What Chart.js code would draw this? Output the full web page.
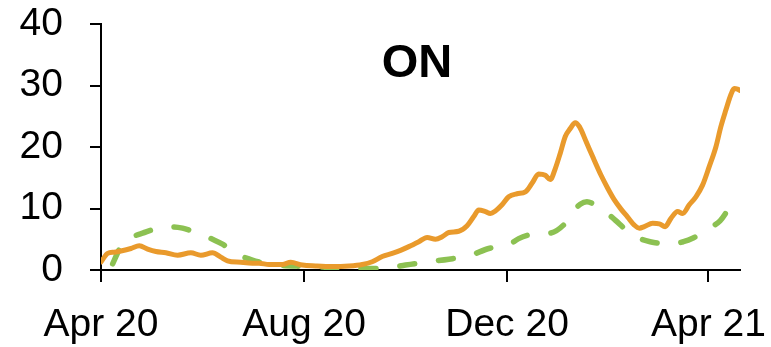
<!DOCTYPE html>
<html>
<head>
<meta charset="utf-8">
<script src="https://cdn.jsdelivr.net/npm/chart.js@4.4.0/dist/chart.umd.min.js"></script>
<style>
html,body{margin:0;padding:0;background:#fff;}
#wrap{width:771px;height:347px;position:relative;}
</style>
</head>
<body>
<div id="wrap"><canvas id="c" width="771" height="347"></canvas></div>
<script>
// ---- data (x = days since 1 Apr 2020) ----
const chartTitle = 'ON';
const tickDays = [0, 122, 244, 365];
const tickLabels = ['Apr 20', 'Aug 20', 'Dec 20', 'Apr 21'];
const yTicks = [0, 10, 20, 30, 40];

const orangeDays = [0,4,8,12,18,23,28,33,39,46,54,60,67,72,76,84,91,95,101,109,114,121,129,139,149,157,163,169,175,180,185,191,196,201,205,209,215,220,224,227,231,234,237,241,245,250,255,259,263,267,270,273,276,279,282,285,287.5,291.5,295.5,300.5,304.5,308.5,312.5,316.5,320.5,323.5,326.5,331.5,335.5,339,342.5,346.5,349.5,353.5,357.5,361.5,365.5,369.5,372.5,375.5,378.5,380.5,382.5,384];
const orangeValues = [1.3,2.7,2.9,3.1,3.5,3.95,3.4,3.0,2.8,2.4,2.8,2.4,2.8,2.1,1.5,1.25,1.1,1.1,0.9,0.9,1.25,0.8,0.65,0.55,0.65,0.9,1.35,2.2,2.7,3.2,3.8,4.6,5.3,5.0,5.4,6.1,6.3,7.2,8.7,9.75,9.5,9.2,9.6,10.6,11.9,12.4,12.7,14.1,15.6,15.4,14.7,16.5,19.0,21.7,23.0,23.95,23.3,20.9,18.4,15.4,13.3,11.4,9.9,8.6,7.3,6.8,7.05,7.6,7.5,7.05,8.4,9.5,9.2,10.6,11.9,13.8,16.8,20.0,23.3,26.0,28.5,29.5,29.4,29.2];

const greenDays = [7,10,13,19,25,36,43,49,55,61,67,73,78,83,89,95,107,121,133,146,158,172,183,197,209,222,233,245,251,257,264,270,279,284,288,292,298,304,309,317,323,330,342,350,355.5,365.5,372,376,381];
const greenValues = [1.0,2.8,4.4,5.4,6.0,6.9,7.0,6.8,6.3,5.7,5.0,4.2,3.3,2.4,1.8,1.3,0.8,0.6,0.5,0.3,0.25,0.35,0.8,1.35,1.75,2.4,3.5,4.1,5.1,5.7,5.9,6.0,7.6,9.6,10.7,11.1,10.4,9.3,8.1,6.2,5.2,4.6,4.2,4.6,5.15,6.8,8.0,9.5,11.8];

const FONT = '"Liberation Sans", Arial, Helvetica, sans-serif';

const titlePlugin = {
  id: 'innerTitle',
  afterDatasetsDraw(chart) {
    const c = chart.ctx;
    c.save();
    c.font = 'bold 47px ' + FONT;
    c.fillStyle = '#000';
    c.textAlign = 'center';
    c.textBaseline = 'alphabetic';
    c.fillText(chartTitle, 417, 77);
    c.restore();
  }
};

new Chart(document.getElementById('c').getContext('2d'), {
  type: 'line',
  data: {
    datasets: [
      {
        data: orangeDays.map((d, i) => ({x: d, y: orangeValues[i]})),
        borderColor: '#E99A2C',
        borderWidth: 5,
        pointRadius: 0,
        cubicInterpolationMode: 'monotone',
        fill: false,
        borderJoinStyle: 'round',
        borderCapStyle: 'round'
      },
      {
        data: greenDays.map((d, i) => ({x: d, y: greenValues[i]})),
        borderColor: '#8CC152',
        borderWidth: 5.5,
        borderDash: [15, 24],
        borderCapStyle: 'round',
        pointRadius: 0,
        cubicInterpolationMode: 'monotone',
        fill: false
      }
    ]
  },
  options: {
    responsive: false,
    animation: false,
    layout: {padding: {top: 24, right: 31, left: 0, bottom: 0}},
    plugins: {legend: {display: false}, tooltip: {enabled: false}, title: {display: false}},
    scales: {
      x: {
        type: 'linear',
        min: 0,
        max: 384,
        afterBuildTicks: s => { s.ticks = tickDays.map(v => ({value: v})); },
        afterFit: s => { s.height = 77; s.paddingLeft = 0; s.paddingRight = 0; },
        ticks: {
          callback: (v, i) => tickLabels[i],
          font: {family: FONT, size: 39},
          color: '#000',
          padding: 20,
          maxRotation: 0,
          autoSkip: false
        },
        grid: {drawOnChartArea: false, drawTicks: true, tickLength: 12, color: '#000', lineWidth: 2},
        border: {display: true, color: '#000', width: 2}
      },
      y: {
        min: 0,
        max: 40,
        afterBuildTicks: s => { s.ticks = yTicks.map(v => ({value: v})); },
        afterFit: s => { s.width = 101; s.paddingTop = 0; s.paddingBottom = 0; },
        ticks: {
          callback: (v) => String(v),
          font: {family: FONT, size: 39},
          color: '#000',
          padding: 27
        },
        grid: {drawOnChartArea: false, drawTicks: true, tickLength: 11, color: '#000', lineWidth: 2},
        border: {display: true, color: '#000', width: 2}
      }
    }
  },
  plugins: [titlePlugin]
});
</script>
</body>
</html>
